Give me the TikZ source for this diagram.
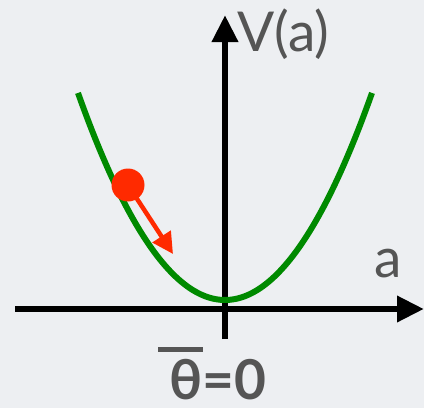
\documentclass[tikz,border=0pt]{standalone}
\usepackage{fontspec}
\setmainfont{Lato}
\usetikzlibrary{arrows.meta}
\definecolor{bgc}{HTML}{EDEFF2}
\definecolor{labc}{HTML}{555555}
\definecolor{curvec}{HTML}{008A00}
\definecolor{ballc}{HTML}{FF2A00}
\tikzset{
  axis/.style={line width=6.5pt, black},
  lab/.style={text=labc, inner sep=0pt},
}
\begin{document}
\begin{tikzpicture}[x=1pt,y=-1pt]
\fill[bgc] (0,0) rectangle (424,408);
\useasboundingbox (0,0) rectangle (424,408);
% axes
\draw[axis, -{Triangle[length=27pt,width=25pt]}] (15,309) -- (424,309);
\draw[axis, -{Triangle[length=27pt,width=25pt]}] (225,339) -- (225,15);
% parabola
\draw[line width=6pt, curvec, domain=78:372, samples=80, smooth]
  plot (\x, {300 - 0.00958*(\x-225)*(\x-225)});
% ball and arrow
\draw[line width=4.5pt, ballc, -{Triangle[length=21pt,width=21pt]}] (128,185) -- (173,254);
\fill[ballc] (128,185) circle (16.5);
% labels
\node[lab, anchor=base west, font=\fontsize{55}{55}\selectfont] (vlab) at (237,51) {V(a)};
\node[lab, anchor=base west, font=\fontsize{55}{55}\selectfont] (alab) at (374,277) {a};
\node[lab, anchor=base, text depth=0pt, font=\fontsize{55}{55}\selectfont\bfseries] (tlab) at (218,399) {θ=0};
\draw[labc, line width=5pt] (158,349) -- (203,349);
\end{tikzpicture}
\end{document}
